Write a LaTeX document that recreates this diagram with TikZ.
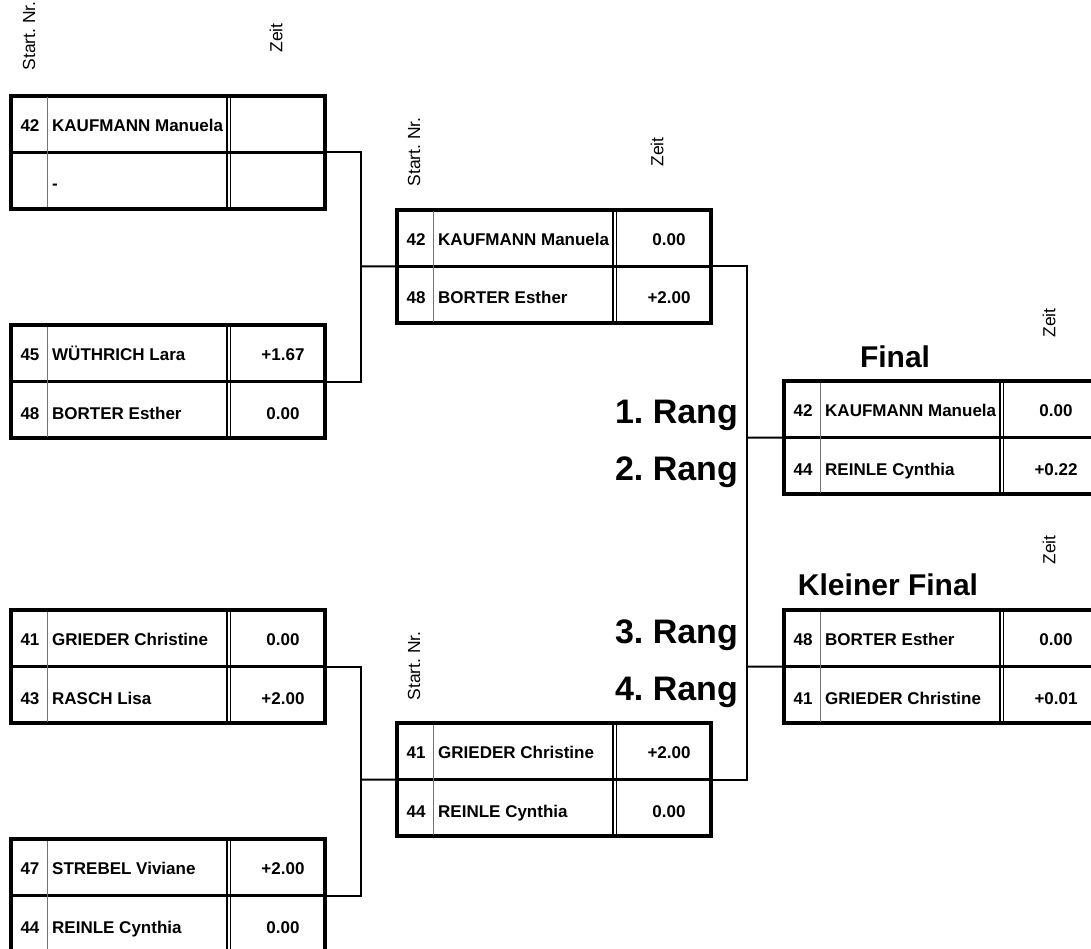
\documentclass[tikz,border=0pt]{standalone}
\usepackage{fontspec}
\setmainfont{Liberation Sans}
\frenchspacing
\usetikzlibrary{calc}
\tikzset{
  frame/.style={draw=black, line width=3.7pt, minimum width=314.3pt, minimum height=113.3pt, inner sep=0pt, anchor=north west},
  rowline/.style={line width=2.3pt},
  numline/.style={draw=black!55, line width=0.9pt},
  dblline/.style={line width=1.6pt},
  conn/.style={line width=2pt},
  celltxt/.style={inner sep=0pt, font=\fontsize{17}{20}\selectfont\bfseries},
  hdr/.style={rotate=90, inner sep=0pt, font=\fontsize{17.5}{20}\selectfont},
  rang/.style={inner sep=0pt, anchor=base east, font=\fontsize{34}{40}\selectfont\bfseries},
  title/.style={inner sep=0pt, anchor=base, font=\fontsize{30}{36}\selectfont\bfseries}
}
% #1 name, #2 x, #3 y (outer top-left), #4-#6 first row, #7-#9 second row
\newcommand\bracketbox[9]{%
  \node[frame] (#1) at (#2,#3) {};
  \draw[rowline] (#2+1.85,#3+58.5) -- (#2+316.15,#3+58.5);
  \draw[numline] (#2+38,#3+3.5) -- (#2+38,#3+113.5);
  \draw[dblline] (#2+218,#3+3.5) -- (#2+218,#3+113.5);
  \draw[dblline] (#2+221.6,#3+3.5) -- (#2+221.6,#3+113.5);
  \node[celltxt, anchor=base] (#1-n1) at (#2+21,#3+37.5) {#4};
  \node[celltxt, anchor=base west] (#1-a1) at (#2+43,#3+37.5) {#5};
  \node[celltxt, anchor=base] (#1-t1) at (#2+274,#3+37.5) {#6};
  \node[celltxt, anchor=base] (#1-n2) at (#2+21,#3+96) {#7};
  \node[celltxt, anchor=base west] (#1-a2) at (#2+43,#3+96) {#8};
  \node[celltxt, anchor=base] (#1-t2) at (#2+274,#3+96) {#9};
}
\begin{document}
\begin{tikzpicture}[x=1pt,y=-1pt]
\useasboundingbox[fill=white] (0,0) rectangle (1091,949);

% headers
\node[hdr] (hs1) at (29,36) {Start. Nr.};
\node[hdr] (hz1) at (276,38) {Zeit};
\node[hdr] (hs2) at (414,152) {Start. Nr.};
\node[hdr] (hz2) at (657,152) {Zeit};
\node[hdr] (hs3) at (414,666) {Start. Nr.};
\node[hdr] (hz3) at (1049,323) {Zeit};
\node[hdr] (hz4) at (1049,550) {Zeit};

% first round
\bracketbox{b1}{9}{94}{42}{KAUFMANN Manuela}{}{}{-}{}
\bracketbox{b2}{9}{323}{45}{WÜTHRICH Lara}{+1.67}{48}{BORTER Esther}{0.00}
\bracketbox{b3}{9}{608}{41}{GRIEDER Christine}{0.00}{43}{RASCH Lisa}{+2.00}
\bracketbox{b4}{9}{837}{47}{STREBEL Viviane}{+2.00}{44}{REINLE Cynthia}{0.00}

% semi finals
\bracketbox{s1}{395}{208}{42}{KAUFMANN Manuela}{0.00}{48}{BORTER Esther}{+2.00}
\bracketbox{s2}{395}{721}{41}{GRIEDER Christine}{+2.00}{44}{REINLE Cynthia}{0.00}

% finals
\bracketbox{f1}{782}{379}{42}{KAUFMANN Manuela}{0.00}{44}{REINLE Cynthia}{+0.22}
\bracketbox{f2}{782}{608}{48}{BORTER Esther}{0.00}{41}{GRIEDER Christine}{+0.01}

\node[title] (tf1) at (895,367) {Final};
\node[title] (tf2) at (888,595) {Kleiner Final};

\node[rang] (r1) at (738,423) {1. Rang};
\node[rang] (r2) at (738,480) {2. Rang};
\node[rang] (r3) at (738,643) {3. Rang};
\node[rang] (r4) at (738,700) {4. Rang};

% connectors
\coordinate (j1) at (361,266.5);
\coordinate (j2) at (361,779.5);
\coordinate (j3) at (747,437.5);
\coordinate (j4) at (747,666.5);
\draw[conn] (b1.east) -| (j1) |- (b2.east);
\draw[conn] (j1) -- (s1.west);
\draw[conn] (b3.east) -| (j2) |- (b4.east);
\draw[conn] (j2) -- (s2.west);
\draw[conn] (s1.east) -| (j3) |- (s2.east);
\draw[conn] (j3) -- (f1.west);
\draw[conn] (j4) -- (f2.west);
\end{tikzpicture}
\end{document}
